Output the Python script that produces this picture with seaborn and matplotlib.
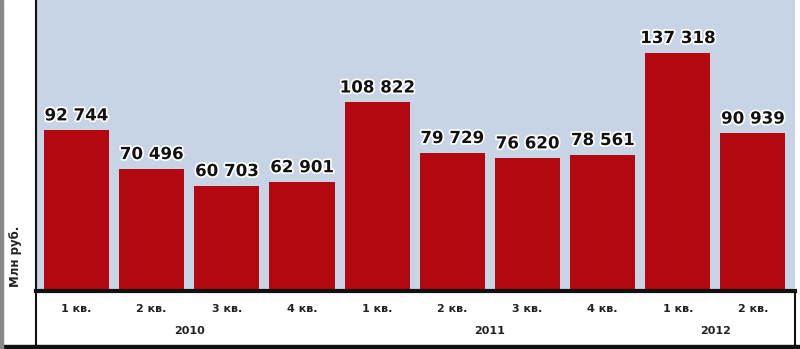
import matplotlib
matplotlib.use("Agg")
import matplotlib.pyplot as plt
import matplotlib.patheffects as pe
from matplotlib.lines import Line2D
from matplotlib.patches import Rectangle
import seaborn as sns
import pandas as pd

# data
years = ["2010", "2010", "2010", "2010", "2011", "2011", "2011", "2011", "2012", "2012"]
quarters = ["1 кв.", "2 кв.", "3 кв.", "4 кв.", "1 кв.", "2 кв.", "3 кв.", "4 кв.", "1 кв.", "2 кв."]
values = [92744, 70496, 60703, 62901, 108822, 79729, 76620, 78561, 137318, 90939]
year_labels = ["2010", "2011", "2012"]

df = pd.DataFrame({"period": [y + " " + q for y, q in zip(years, quarters)],
                   "value": values})

sns.set_theme(style="white")
plt.rcParams["font.family"] = ["DejaVu Sans"]

W, H = 800, 349
fig = plt.figure(figsize=(W / 100, H / 100), dpi=100)
fig.patch.set_facecolor("white")

x0, x1, ytop, yaxis = 36, 795, 0, 291
ax = fig.add_axes([x0 / W, 1 - yaxis / H, (x1 - x0) / W, (yaxis - ytop) / H])
ax.set_facecolor("#c7d4e6")

sns.barplot(data=df, x="period", y="value", color="#b30810", saturation=1,
            width=0.865, ax=ax, linewidth=0)
ax.set_ylim(0, 167600)
ax.set_xlim(-0.539, len(values) - 1 + 0.559)

labels = [f"{v:,}".replace(",", " ") for v in values]
txts = ax.bar_label(ax.containers[0], labels=labels, padding=4,
                    fontsize=12, fontweight="bold", color="#111111")
for t in txts:
    t.set_path_effects([pe.withStroke(linewidth=2.5, foreground="white")])

ax.set_xlabel("")
ax.set_ylabel("")
ax.set_yticks([])
ax.set_xticks(range(len(values)))
ax.set_xticklabels(quarters, fontsize=8, fontweight="bold", color="#222222")
ax.tick_params(axis="x", which="major", length=0, pad=9)
ax.set_xticks([i + 0.5 for i in range(0, len(values) - 1)], minor=True)
ax.tick_params(axis="x", which="minor", length=7, width=1.5, color="#222222",
               direction="inout")

for s in ["top", "right"]:
    ax.spines[s].set_visible(False)
ax.spines["bottom"].set_linewidth(3)
ax.spines["bottom"].set_color("#111111")
ax.spines["left"].set_linewidth(1.5)
ax.spines["left"].set_color("#111111")

# year labels centred under their quarters
for yl in year_labels:
    idx = [i for i, y in enumerate(years) if y == yl]
    xc = (idx[0] + idx[-1]) / 2
    ax.annotate(yl, xy=(xc, 0), xycoords=("data", "axes fraction"),
                xytext=(0, -28.5), textcoords="offset points",
                ha="center", va="center", fontsize=8, fontweight="bold",
                color="#222222")

fig.text(15 / W, 1 - 256 / H, "Млн руб.", rotation=90, ha="center", va="center",
         fontsize=8.5, fontweight="bold", color="#222222")

# frame around the lower band
fig.add_artist(Line2D([x0 / W, x0 / W], [1 - yaxis / H, 1 - 346 / H],
                      color="#111111", lw=1.5, transform=fig.transFigure))
fig.add_artist(Line2D([x1 / W, x1 / W], [1 - yaxis / H, 1 - 346 / H],
                      color="#111111", lw=1.5, transform=fig.transFigure))
fig.add_artist(Rectangle((0, 0), 1, 4 / H, color="#111111",
                         transform=fig.transFigure))
fig.add_artist(Rectangle((0, 0), 3 / W, 1, color="#888888",
                         transform=fig.transFigure))

fig.savefig("out.png", dpi=100)
